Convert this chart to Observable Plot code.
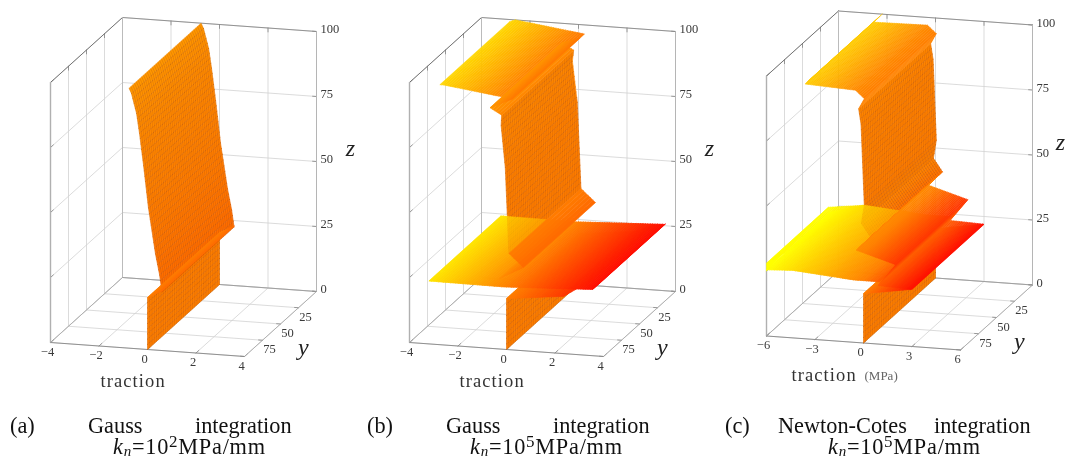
<!DOCTYPE html>
<html><head><meta charset="utf-8">
<script src="https://cdn.jsdelivr.net/npm/d3@7"></script>
<script src="https://cdn.jsdelivr.net/npm/@observablehq/plot@0.6"></script>
<style>
html,body{margin:0;padding:0;background:#fff;width:1068px;height:458px;overflow:hidden}
#page{position:relative;width:1068px;height:458px;overflow:hidden;font-family:"Liberation Serif",serif;color:#111}
.panel{position:absolute;top:0;will-change:transform}
.panel svg{display:block;overflow:visible;background:none}
.cap{position:absolute;font-size:22.3px;line-height:20px;height:20px;white-space:nowrap;will-change:transform}
.cap.k{letter-spacing:.75px}
.cap i{font-style:italic}
.cap sub{font-size:15px;line-height:0;font-style:italic;vertical-align:-2px}
.cap sup{font-size:17px;line-height:0;vertical-align:7px}
.wide{letter-spacing:1.1px}
</style></head><body><div id="page"></div>
<script>
// tick values
const yTicks = [0, 25, 50, 75, 100];
const zTicks = [0, 25, 50, 75, 100];
const xTicksAB = [-4, -2, 0, 2, 4];
const xTicksC = [-6, -3, 0, 3, 6];

// sheets: [traction, z, yStart, yEnd]
const aWall = [[0, 0, 0, 100], [0, 20, 0, 100]];
const aStrip = [[0, 20, 0, 100], [0.62, 23, 0, 100]];
const aMain = [[0.6, 22.5, 0, 100], [0.5, 29, 0, 100], [0.33, 37, 0, 100], [0.04, 54.5, 0, 100], [-0.16, 70.6, 0, 100], [-0.33, 83, 0, 100], [-0.45, 90.5, 0, 100], [-0.66, 98, 0, 100], [-0.76, 100, 0, 100]];

const bWall = [[0, 0, 0, 100], [0, 19.6, 0, 100]];
const bWedge = [[0, 19.6, 0, 100], [2.35, 22, 0, 100], [3.1, 25, 0, 84]];
const bPlateauLow = [[-3.2, 24.2, 0, 100], [-0.1, 24, 0, 100], [3.55, 25.5, 0, 100], [3.62, 26, 1, 92]];
const bMain = [[0.1, 37, 0, 100], [-0.05, 70, 0, 100], [-0.22, 86, 1, 100], [-0.2, 90, 0, 100]];
const bFoldA = [[0.1, 37, 0, 100], [0.7, 32, 0, 100]];
const bFoldB = [[0.7, 32, 0, 100], [-0.3, 27, 0, 100]];
const bBand = [[-0.2, 90, 0, 100], [-0.68, 92.5, 0, 100], [0.25, 96.5, 6, 100]];
const bPlateauTop = [[-2.75, 100, 3, 100], [-2.6, 100, 0, 100], [0.25, 96.5, 0, 100]];

const cWall = [[0, 0, 0, 100], [0, 19, 0, 100]];
const cWedge = [[0, 19, 0, 100], [3, 22, 0, 100]];
const cPlateauLeft = [[-6, 25.5, 12, 100], [-4.4, 26, 0, 100], [-0.6, 24, 0, 100], [1, 24, 0, 100]];
const cPlateauEdge = [[-6, 25, 100, 100], [-6, 28, 14, 100], [-4.4, 26, 0, 12]];
const cPlateauRight = [[0.9, 22.5, 0, 100], [3, 22, 0, 100]];
const cMain = [[0.43, 41, 0, 100], [-0.13, 46, 0, 100], [0.05, 53, 0, 100], [-0.15, 84, 0, 100], [-0.3, 90, 0, 100]];
const cFoldA = [[0.43, 41, 0, 100], [-0.45, 35.5, 0, 100]];
const cFoldB = [[-0.45, 35.5, 0, 100], [2, 31, 0, 100], [0.9, 22.5, 0, 100]];
const cPlateauTop = [[-3.3, 100, 0, 100], [-3.6, 98, 5, 100], [-0.5, 97, 0, 100], [0.05, 94, 0, 100]];
const cBand = [[0.05, 94, 0, 100], [-0.3, 90, 0, 100]];

const meshY = d3.range(0, 100.01, 2.5);

function panel(o) {
  const P = (t, y, z) => ({
    px: o.ox + (t - o.xTicks[0]) * 194 / (o.xTicks[4] - o.xTicks[0]) - 0.72 * y,
    py: o.oy + (t - o.xTicks[0]) * 14 / (o.xTicks[4] - o.xTicks[0]) + 0.65 * y - 2.6 * z
  });
  const x0 = o.xTicks[0], x1 = o.xTicks[4], dx = (x1 - x0) * 0.02;
  // --- gridlines
  const grid = [], ticks = [];
  let gid = 0;
  const seg = (a, b) => { gid++; grid.push({g: gid, ...a}, {g: gid, ...b}); };
  const tick = (a, b) => { gid++; ticks.push({g: gid, ...a}, {g: gid, ...b}); };
  for (const t of o.xTicks) { seg(P(t, 0, 0), P(t, 100, 0)); seg(P(t, 0, 0), P(t, 0, 100)); tick(P(t, 100, 0), P(t, 96, 0)); tick(P(t, 0, 100), P(t, 0, 98.5)); }
  for (const y of yTicks) { seg(P(x0, y, 0), P(x1, y, 0)); seg(P(x0, y, 0), P(x0, y, 100)); tick(P(x1, y, 0), P(x1 - dx, y, 0)); tick(P(x0, y, 100), P(x0, y, 98.5)); }
  for (const z of zTicks) { seg(P(x0, 0, z), P(x1, 0, z)); seg(P(x0, 0, z), P(x0, 100, z)); tick(P(x1, 0, z), P(x1 - dx, 0, z)); tick(P(x0, 100, z), P(x0, 96, z)); }
  const edgeLine = (a, b, stroke, w) => Plot.line([a, b], {x: "px", y: "py", stroke, strokeWidth: w});

  // --- sheets to rows
  const sheetMarks = (cols, {mesh = false, opacity = 1} = {}) => {
    const rows = [], lines = [];
    let id = 0, lid = 0;
    for (let i = 0; i + 1 < cols.length; i++) {
      const [t0, z0, a0, b0] = cols[i], [t1, z1, a1, b1] = cols[i + 1];
      const n = Math.max(1, Math.ceil(Math.abs(t1 - t0) / 0.1), mesh ? Math.ceil(Math.abs(z1 - z0) / 2.2) : 1);
      for (let s = 0; s < n; s++) {
        const u = s / n, v = (s + 1) / n, L = (p, q, w) => p + (q - p) * w;
        const tm = L(t0, t1, (u + v) / 2);
        id++;
        const corners = [
          P(L(t0, t1, u), L(a0, a1, u), L(z0, z1, u)), P(L(t0, t1, v), L(a0, a1, v), L(z0, z1, v)),
          P(L(t0, t1, v), L(b0, b1, v), L(z0, z1, v)), P(L(t0, t1, u), L(b0, b1, u), L(z0, z1, u))];
        for (const c of [...corners, corners[0]]) rows.push({id, t: tm, ...c});
        if (mesh) {
          lid++;
          lines.push({l: lid, ...corners[0]}, {l: lid, ...corners[3]});
          for (const y of meshY) {
            if (y < Math.min(L(a0, a1, u), L(a0, a1, v)) || y > Math.max(L(b0, b1, u), L(b0, b1, v))) continue;
            lid++;
            lines.push({l: lid, ...P(L(t0, t1, u), y, L(z0, z1, u))}, {l: lid, ...P(L(t0, t1, v), y, L(z0, z1, v))});
          }
        }
      }
    }
    const out = [Plot.line(rows, {x: "px", y: "py", z: "id", fill: "t", stroke: "t", strokeWidth: 0.5, opacity})];
    if (mesh) out.push(Plot.line(lines, {x: "px", y: "py", z: "l", stroke: "#9a3800", strokeOpacity: 0.42, strokeWidth: 0.45}));
    return out;
  };

  // --- labels
  const fmt = v => String(v).replace("-", "\u2212");
  const font = {fontFamily: "Liberation Serif", fill: "#3a3a3a", fontSize: 12.5, lineAnchor: "middle"};
  const xLab = o.xTicks.map(t => ({...P(t, 100, 0), s: fmt(t)}));
  const yLab = yTicks.slice(1, 4).map(y => ({...P(x1, y, 0), s: fmt(y)}));
  const zLab = zTicks.map(z => ({...P(x1, 0, z), s: fmt(z)}));
  const yT = P(x1, 60, 0), zT = P(x1, 0, 55);
  const tT = P(0, 100, 0);

  const marks = [
    Plot.line(grid, {x: "px", y: "py", z: "g", stroke: "#d2d2d2", strokeWidth: 0.8}),
    Plot.line(ticks, {x: "px", y: "py", z: "g", stroke: "#777", strokeWidth: 0.7}),
    edgeLine(P(x0, 0, 100), P(x1, 0, 100), "#8a8a8a", 0.9),
    edgeLine(P(x0, 100, 100), P(x0, 0, 100), "#666", 0.9),
    edgeLine(P(x0, 100, 0), P(x0, 100, 100), "#b0b0b0", 1.4),
    edgeLine(P(x1, 0, 0), P(x1, 0, 100), "#b5b5b5", 1),
    edgeLine(P(x0, 0, 0), P(x0, 0, 100), "#bbb", 1),
    edgeLine(P(x0, 0, 0), P(x1, 0, 0), "#999", 0.9),
    edgeLine(P(x0, 100, 0), P(x1, 100, 0), "#888", 0.9),
    edgeLine(P(x1, 100, 0), P(x1, 0, 0), "#aaa", 0.9),
    edgeLine(P(x0, 100, 0), P(x0, 0, 0), "#aaa", 0.9),
    ...o.draw(sheetMarks),
    Plot.text(xLab, {x: "px", y: "py", text: "s", dx: -3, dy: 9, textAnchor: "middle", ...font}),
    Plot.text(yLab, {x: "px", y: "py", text: "s", dx: 7, dy: 9, textAnchor: "middle", ...font}),
    Plot.text(zLab, {x: "px", y: "py", text: "s", dx: 4, dy: -2.5, textAnchor: "start", ...font}),
    Plot.text([yT], {x: "px", y: "py", text: () => "y", dx: 30, dy: 17, fontSize: 24, fontStyle: "italic", fontFamily: "Liberation Serif", fill: "#222"}),
    Plot.text([zT], {x: "px", y: "py", text: () => "z", dx: o.zdx, dy: 0, fontSize: 24, fontStyle: "italic", fontFamily: "Liberation Serif", fill: "#222"}),
    Plot.text([tT], {x: "px", y: "py", text: () => "traction", dx: o.tdx, dy: 32, fontSize: 18.5, fontFamily: "Liberation Serif", fill: "#333", className: "wide", textAnchor: "start"})
  ];
  if (o.unit) marks.push(Plot.text([tT], {x: "px", y: "py", text: () => "(MPa)", dx: o.tdx + 73, dy: 33, fontSize: 13, fontFamily: "Liberation Serif", fill: "#666", textAnchor: "start"}));

  const W = o.w, H = 400;
  const svg = Plot.plot({
    width: W, height: H, margin: 0,
    x: {domain: [0, W], range: [0, W], axis: null},
    y: {domain: [0, H], range: [0, H], axis: null},
    color: {type: "linear", domain: o.colorDomain, range: ["#ffff00", "#ff8000", "#ff0000"], clamp: true},
    style: {background: "none", overflow: "visible"},
    marks
  });
  const d = document.createElement("div");
  d.className = "panel";
  d.style.left = o.left + "px";
  d.append(svg);
  document.getElementById("page").append(d);
}

panel({left: 0, w: 358, ox: 122, oy: 277, xTicks: xTicksAB, colorDomain: [-4, 0, 4], tdx: -47, zdx: 34,
  draw: S => [...S(aWall, {mesh: true}), ...S(aMain, {mesh: true}), ...S(aStrip)]});
panel({left: 358, w: 358, ox: 123, oy: 277, xTicks: xTicksAB, colorDomain: [-4, 0, 4], tdx: -47, zdx: 34,
  draw: S => [...S(bWall, {mesh: true}), ...S(bWedge), ...S(bPlateauLow), ...S(bMain, {mesh: true}), ...S(bPlateauLow, {opacity: 0.72}),
    ...S(bFoldB, {opacity: 0.55}), ...S(bFoldA), ...S(bPlateauTop), ...S(bBand)]});
panel({left: 716, w: 352, ox: 122, oy: 270.5, xTicks: xTicksC, colorDomain: [-6, 0, 3.4], tdx: -72, zdx: 28, unit: true,
  draw: S => [...S(cWall, {mesh: true}), ...S(cWedge), ...S(cPlateauRight), ...S(cPlateauEdge), ...S(cPlateauLeft), ...S(cMain, {mesh: true}), ...S(cPlateauLeft, {opacity: 0.72}),
    ...S(cFoldB), ...S(cFoldA), ...S(cPlateauTop), ...S(cBand)]});

// captions
const capLeft = ["(a)", "(b)", "(c)"];
const capWordA = ["Gauss", "Gauss", "Newton-Cotes"];
const capWordB = ["integration", "integration", "integration"];
const capPower = ["2", "5", "5"];
const capX = [[10, 88, 195, 113], [367, 446, 553, 470], [725, 778, 934, 828]];
const page = document.getElementById("page");
const span = (html, x, top, cls = "") => { const s = document.createElement("div"); s.className = "cap " + cls; s.style.left = x + "px"; s.style.top = top + "px"; s.innerHTML = html; page.append(s); };
capLeft.forEach((c, i) => {
  span(c, capX[i][0], 416);
  span(capWordA[i], capX[i][1], 416);
  span(capWordB[i], capX[i][2], 416);
  span(`<i>k</i><sub>n</sub>=10<sup>${capPower[i]}</sup>MPa/mm`, capX[i][3], 437, "k");
});
</script></body></html>
